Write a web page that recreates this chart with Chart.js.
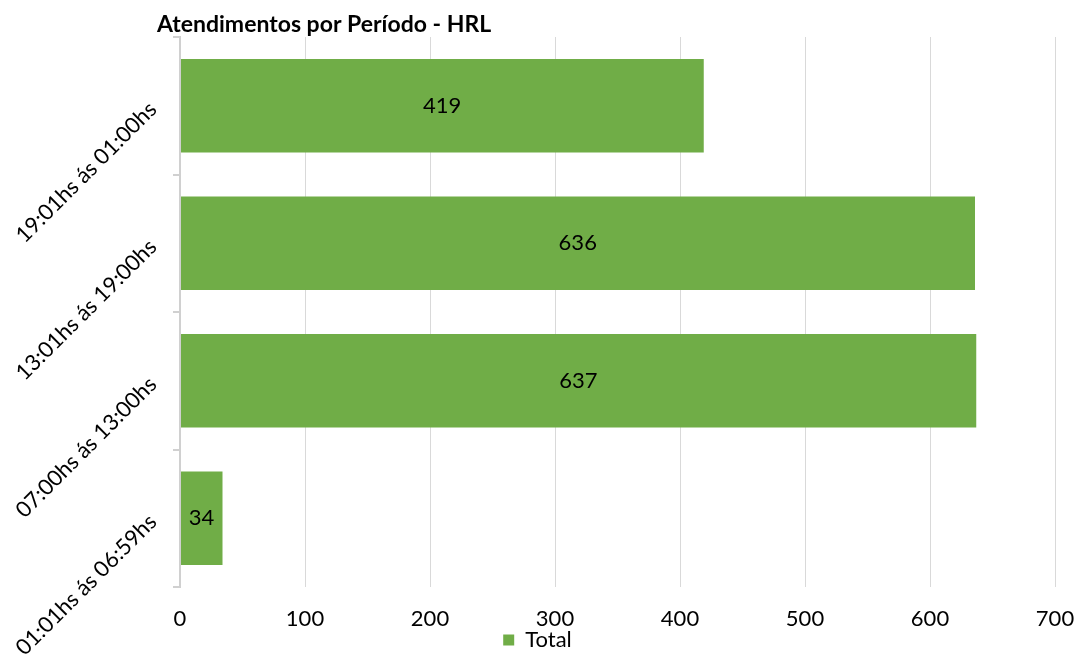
<!DOCTYPE html>
<html>
<head>
<meta charset="utf-8">
<title>Atendimentos por Período - HRL</title>
<script src="https://cdn.jsdelivr.net/npm/chart.js@4.4.0/dist/chart.umd.min.js"></script>
<style>
  body { margin: 0; background: #fff; }
</style>
</head>
<body>
<canvas id="grafico" width="1075" height="655"></canvas>
<script>
var titulo = 'Atendimentos por Período - HRL';
var periodos = ['19:01hs ás 01:00hs', '13:01hs ás 19:00hs', '07:00hs ás 13:00hs', '01:01hs ás 06:59hs'];
var totais = [419, 636, 637, 34];
var serieNome = 'Total';
var eixoMin = 0, eixoMax = 700, eixoPasso = 100;

var fonte = 'Lato';
var verde = '#70AD47';

// valor escrito no meio de cada barra
var rotulosBarras = {
  id: 'rotulosBarras',
  afterDatasetsDraw: function(chart) {
    var ctx = chart.ctx;
    var meta = chart.getDatasetMeta(0);
    ctx.save();
    ctx.font = '22px ' + fonte;
    ctx.fillStyle = '#000';
    ctx.textAlign = 'center';
    ctx.textBaseline = 'middle';
    meta.data.forEach(function(bar, i) {
      ctx.fillText(String(chart.data.datasets[0].data[i]), (bar.x + bar.base) / 2, bar.y);
    });
    ctx.restore();
  }
};

// título alinhado à esquerda, um pouco antes da área do gráfico
var tituloEsquerda = {
  id: 'tituloEsquerda',
  afterDraw: function(chart) {
    var ctx = chart.ctx;
    ctx.save();
    ctx.font = 'bold 23px ' + fonte;
    ctx.fillStyle = '#000';
    ctx.textAlign = 'left';
    ctx.textBaseline = 'middle';
    ctx.fillText(titulo, 157, 25);
    ctx.restore();
  }
};

var ctx = document.getElementById('grafico').getContext('2d');
var chart = new Chart(ctx, {
  type: 'bar',
  data: {
    labels: periodos,
    datasets: [{
      label: serieNome,
      data: totais,
      backgroundColor: verde,
      borderWidth: 0,
      categoryPercentage: 1,
      barPercentage: 0.68
    }]
  },
  options: {
    indexAxis: 'y',
    responsive: false,
    animation: false,
    layout: { padding: { top: 37, left: 0, right: 0, bottom: 0 } },
    scales: {
      x: {
        min: eixoMin,
        max: eixoMax,
        ticks: {
          stepSize: eixoPasso,
          color: '#000',
          font: { family: fonte, size: 22 },
          padding: 19
        },
        grid: { color: '#d9d9d9', lineWidth: 1, drawTicks: false },
        border: { display: false },
        afterFit: function(scale) {
          scale.height = 40;
          scale.paddingLeft = 0;
          scale.paddingRight = 20;
        }
      },
      y: {
        ticks: {
          color: '#000',
          font: { family: fonte, size: 22 },
          minRotation: 45,
          maxRotation: 45,
          padding: 20
        },
        grid: { drawOnChartArea: false, drawTicks: true, tickLength: 7, color: '#d0d0d0', lineWidth: 2 },
        border: { color: '#d0d0d0', width: 2, z: 1 },
        afterFit: function(scale) {
          scale.width = 180;
          scale.paddingTop = 0;
          scale.paddingBottom = 0;
        }
      }
    },
    plugins: {
      legend: {
        position: 'bottom',
        maxHeight: 28,
        labels: {
          color: '#000',
          font: { family: fonte, size: 22 },
          boxWidth: 11,
          boxHeight: 11,
          padding: 2
        }
      },
      tooltip: { enabled: false }
    }
  },
  plugins: [rotulosBarras, tituloEsquerda]
});
</script>
</body>
</html>
